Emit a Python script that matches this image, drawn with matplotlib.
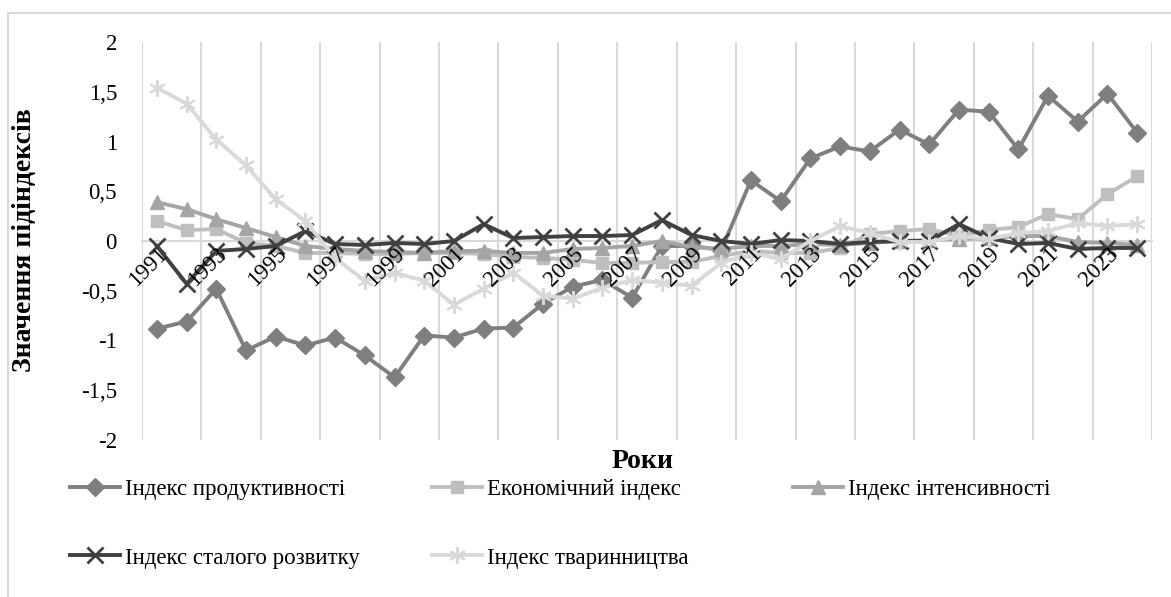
import numpy as np
import matplotlib
matplotlib.use("Agg")
import matplotlib.pyplot as plt
from matplotlib.patches import Rectangle

plt.rcParams['font.family'] = ['Liberation Serif', 'DejaVu Serif']
plt.rcParams['axes.unicode_minus'] = False

years = list(range(1991, 2025))

prod = [-0.88, -0.81, -0.48, -1.10, -0.96, -1.05, -0.97, -1.15, -1.37, -0.95,
        -0.97, -0.88, -0.87, -0.63, -0.46, -0.39, -0.57, -0.05, -0.05, -0.09,
        0.61, 0.40, 0.83, 0.95, 0.90, 1.12, 0.97, 1.32, 1.30, 0.92,
        1.46, 1.20, 1.48, 1.09]
econ = [0.20, 0.11, 0.12, -0.02, -0.05, -0.12, -0.12, -0.13, -0.13, -0.12,
        -0.12, -0.13, -0.16, -0.17, -0.19, -0.22, -0.22, -0.21, -0.21, -0.15,
        -0.10, -0.12, -0.12, -0.07, 0.07, 0.10, 0.12, 0.05, 0.11, 0.14,
        0.27, 0.22, 0.47, 0.65]
intens = [0.39, 0.32, 0.22, 0.13, 0.04, -0.05, -0.08, -0.10, -0.11, -0.12,
          -0.10, -0.10, -0.12, -0.12, -0.08, -0.07, -0.05, 0.00, -0.06, -0.08,
          -0.05, -0.05, -0.03, -0.04, -0.02, 0.00, 0.01, 0.02, 0.03, 0.05,
          0.05, -0.01, -0.02, -0.04]
sust = [-0.05, -0.43, -0.10, -0.08, -0.05, 0.10, -0.03, -0.04, -0.02, -0.03,
        0.00, 0.17, 0.03, 0.04, 0.05, 0.05, 0.06, 0.21, 0.06, 0.00,
        -0.03, 0.01, 0.00, -0.03, -0.01, 0.00, 0.00, 0.17, 0.03, -0.03,
        -0.02, -0.08, -0.07, -0.07]
live = [1.54, 1.38, 1.02, 0.76, 0.42, 0.20, -0.17, -0.40, -0.32, -0.40,
        -0.64, -0.48, -0.32, -0.55, -0.58, -0.47, -0.39, -0.42, -0.45, -0.22,
        -0.12, -0.18, 0.00, 0.15, 0.08, -0.01, -0.01, 0.05, 0.02, 0.08,
        0.10, 0.18, 0.15, 0.17]

names = ['Індекс продуктивності', 'Економічний індекс', 'Індекс інтенсивності',
         'Індекс сталого розвитку', 'Індекс тваринництва']
yticks = [2, 1.5, 1, 0.5, 0, -0.5, -1, -1.5, -2]
ylabels = ['2', '1,5', '1', '0,5', '0', '-0,5', '-1', '-1,5', '-2']

fs = 16.5
fig = plt.figure(figsize=(11.71, 5.97), dpi=100)
ax = fig.add_axes([142/1171, 1-440/597, 1010/1171, 398/597])

# axis line crosses at zero (set before tick formatting, it resets ticks)
for s in ['top', 'right', 'left']:
    ax.spines[s].set_visible(False)
ax.spines['bottom'].set_position(('data', 0))
ax.spines['bottom'].set_color('#d9d9d9')
ax.spines['bottom'].set_linewidth(1.5)
ax.spines['bottom'].set_zorder(1)

x = np.arange(len(years))

# vertical gridlines between categories, every 2 years
ax.vlines(np.arange(-0.5, len(years), 2), -2, 2, color='#d9d9d9', lw=1.5, zorder=0)

series = [
    (prod, '#7f7f7f', 'D', 9, 1.0),
    (econ, '#bfbfbf', 's', 9, 1.0),
    (intens, '#a5a5a5', '^', 10, 1.0),
    (sust, '#404040', 'x', 11, 2.0),
    (live, '#d9d9d9', (6, 2, 0), 12, 1.5),
]
lines = []
for (vals, col, mk, ms, mew), nm in zip(series, names):
    l, = ax.plot(x, vals, color=col, lw=2.8, marker=mk, markersize=ms,
                 markeredgewidth=mew, markeredgecolor=col, markerfacecolor=col,
                 label=nm, zorder=3)
    lines.append(l)

ax.set_xlim(-0.5, len(years) - 0.5)
ax.set_ylim(-2, 2)
ax.set_yticks(yticks)
ax.set_yticklabels(ylabels, fontsize=fs)
ax.tick_params(axis='y', length=0, pad=18)

ax.set_xticks(x[::2])
ax.tick_params(axis='x', length=0, pad=2)
ax.set_xticklabels([str(y) for y in years[::2]], fontsize=fs, rotation=45,
                   ha='right', rotation_mode='anchor')
ax.xaxis.set_zorder(4)  # year labels sit on top of the lines, like in Excel

fig.text(25/1171, 1-240/597, 'Значення підіндексів', rotation=90, fontsize=20,
         fontweight='bold', ha='center', va='center')
fig.text(643/1171, 1-462/597, 'Роки', fontsize=20, fontweight='bold',
         ha='center', va='center')

# legend in three columns, like the original
cols = [([0, 3], 70), ([1, 4], 432), ([2], 793)]
for idx, xpos in cols:
    fig.legend([lines[i] for i in idx], [names[i] for i in idx],
               loc='upper left', bbox_to_anchor=(xpos/1171, 1-479/597),
               frameon=False, prop={'family': 'Liberation Serif', 'size': fs},
               borderpad=0, borderaxespad=0,
               handlelength=2.2, handletextpad=0.2, labelspacing=2.07)

fig.patches.append(Rectangle((8/1171, -0.1), 2, 1-13/597+0.1, transform=fig.transFigure,
                             fill=False, edgecolor='#d9d9d9', lw=1.5))

fig.savefig('out.png', dpi=100)
